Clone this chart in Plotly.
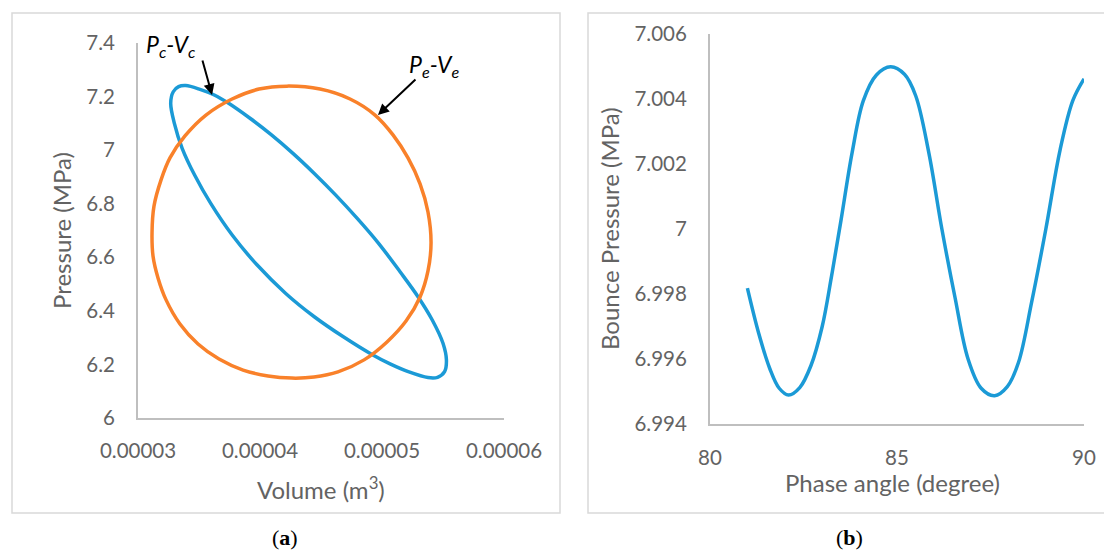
import plotly.graph_objects as go

# ---------------- data ----------------
# (a) Pe-Ve loop (volume in m^3, pressure in MPa)
pe_volume = [4.221e-5, 4.492e-5, 4.738e-5, 4.943e-5, 5.090e-5, 5.213e-5, 5.312e-5, 5.377e-5,
             5.402e-5, 5.377e-5, 5.312e-5, 5.197e-5, 5.041e-5, 4.853e-5, 4.639e-5, 4.443e-5,
             4.262e-5, 4.066e-5, 3.861e-5, 3.664e-5, 3.492e-5, 3.344e-5, 3.230e-5, 3.164e-5,
             3.123e-5, 3.115e-5, 3.131e-5, 3.189e-5, 3.262e-5, 3.385e-5, 3.557e-5, 3.771e-5,
             3.992e-5, 4.221e-5]
pe_pressure = [7.239, 7.228, 7.191, 7.131, 7.057, 6.971, 6.874, 6.769,
               6.653, 6.549, 6.452, 6.362, 6.284, 6.217, 6.172, 6.153,
               6.149, 6.157, 6.179, 6.220, 6.276, 6.351, 6.441, 6.523,
               6.605, 6.691, 6.791, 6.889, 6.971, 7.053, 7.131, 7.191,
               7.228, 7.239]

# (a) Pc-Vc loop
pc_volume = [3.391e-5, 3.508e-5, 3.625e-5, 3.743e-5, 3.918e-5, 4.094e-5, 4.270e-5, 4.445e-5,
             4.621e-5, 4.797e-5, 4.972e-5, 5.148e-5, 5.295e-5, 5.412e-5, 5.500e-5, 5.528e-5,
             5.513e-5, 5.455e-5, 5.377e-5, 5.221e-5, 5.066e-5, 4.914e-5, 4.680e-5, 4.445e-5,
             4.211e-5, 3.977e-5, 3.772e-5, 3.596e-5, 3.464e-5, 3.362e-5, 3.298e-5, 3.268e-5,
             3.289e-5, 3.333e-5, 3.391e-5]
pc_pressure = [7.241, 7.227, 7.206, 7.175, 7.119, 7.057, 6.988, 6.913,
               6.832, 6.745, 6.652, 6.546, 6.453, 6.366, 6.279, 6.217,
               6.173, 6.152, 6.151, 6.172, 6.202, 6.238, 6.304, 6.378,
               6.465, 6.571, 6.683, 6.801, 6.907, 7.007, 7.100, 7.175,
               7.218, 7.237, 7.241]

# (b) bounce pressure vs phase angle
phase_angle = [81.00, 81.30, 81.60, 81.85, 82.10, 82.40, 82.70, 83.00, 83.25, 83.50,
               83.80, 84.10, 84.45, 84.83, 85.20, 85.50, 85.85, 86.20, 86.55, 86.90,
               87.25, 87.61, 87.95, 88.25, 88.60, 88.98, 89.36, 89.70, 90.00]
bounce_pressure = [6.99818, 6.99680, 6.99570, 6.99510, 6.99489, 6.99512, 6.99580, 6.99700,
                   6.99855, 7.00025, 7.00235, 7.00395, 7.00474, 7.00499, 7.00476, 7.00410,
                   7.00235, 7.00000, 6.99790, 6.99600, 6.99510, 6.99487, 6.99515, 6.99590,
                   6.99775, 7.00000, 7.00243, 7.00395, 7.00462]

# tick labels
a_xticks = [3e-5, 4e-5, 5e-5, 6e-5]
a_xticktext = ["0.00003", "0.00004", "0.00005", "0.00006"]
a_yticks = [6.0, 6.2, 6.4, 6.6, 6.8, 7.0, 7.2, 7.4]
a_yticktext = ["6", "6.2", "6.4", "6.6", "6.8", "7", "7.2", "7.4"]
b_xticks = [80, 85, 90]
b_xticktext = ["80", "85", "90"]
b_yticks = [6.994, 6.996, 6.998, 7.000, 7.002, 7.004, 7.006]
b_yticktext = ["6.994", "6.996", "6.998", "7", "7.002", "7.004", "7.006"]

# ---------------- figure ----------------
W, H = 1104, 552
BLUE = "#1b9ad6"
ORANGE = "#f9812a"
GREY_TXT = "#636363"
AXIS_LINE = "#bfbfbf"
FONT = "Lato"

def px(x):
    return x / W

def py(y):
    return 1 - y / H

fig = go.Figure()
fig.add_trace(go.Scatter(x=pc_volume, y=pc_pressure, mode="lines",
                         line=dict(color=BLUE, width=3.5, shape="spline", smoothing=1.0),
                         xaxis="x", yaxis="y", showlegend=False, hoverinfo="skip"))
fig.add_trace(go.Scatter(x=pe_volume, y=pe_pressure, mode="lines",
                         line=dict(color=ORANGE, width=3.5, shape="spline", smoothing=1.0),
                         xaxis="x", yaxis="y", showlegend=False, hoverinfo="skip"))
fig.add_trace(go.Scatter(x=phase_angle, y=bounce_pressure, mode="lines",
                         line=dict(color=BLUE, width=3.5, shape="spline", smoothing=1.0),
                         xaxis="x2", yaxis="y2", showlegend=False, hoverinfo="skip"))

axis_common = dict(showgrid=False, zeroline=False, showline=True, linecolor=AXIS_LINE,
                   linewidth=2, ticks="", tickmode="array", automargin=False,
                   tickfont=dict(family=FONT, size=20.5, color=GREY_TXT))

fig.update_layout(
    width=W, height=H, margin=dict(l=0, r=0, t=0, b=0, autoexpand=False),
    paper_bgcolor="white", plot_bgcolor="white",
    xaxis=dict(domain=[px(138), px(504)], range=[3e-5, 6e-5], anchor="y",
               tickvals=a_xticks, ticktext=a_xticktext, ticklabelstandoff=13, **axis_common),
    yaxis=dict(domain=[py(418), py(43)], range=[6, 7.4], anchor="x",
               tickvals=a_yticks, ticktext=a_yticktext, ticklabelstandoff=17, **axis_common),
    xaxis2=dict(domain=[px(710), px(1084)], range=[80, 90], anchor="y2",
                tickvals=b_xticks, ticktext=b_xticktext, ticklabelstandoff=14, **axis_common),
    yaxis2=dict(domain=[py(424), py(34)], range=[6.994, 7.006], anchor="x2",
                tickvals=b_yticks, ticktext=b_yticktext, ticklabelstandoff=17, **axis_common),
)

# panel borders
border = dict(type="rect", xref="paper", yref="paper",
              line=dict(color="#d9d9d9", width=1.5), fillcolor="rgba(0,0,0,0)", layer="below")
fig.add_shape(x0=px(12), x1=px(560), y0=py(513), y1=py(13), **border)
fig.add_shape(x0=px(588), x1=px(1110), y0=py(513), y1=py(13), **border)

title_font = dict(family=FONT, size=24, color=GREY_TXT)
ann = []
ann.append(dict(text="Volume (m<sup>3</sup>)", x=px(321), y=py(488), xref="paper", yref="paper",
                showarrow=False, font=title_font, xanchor="center", yanchor="middle"))
ann.append(dict(text="Pressure (MPa)", x=px(62), y=py(231), xref="paper", yref="paper",
                showarrow=False, font=title_font, textangle=-90, xanchor="center", yanchor="middle"))
ann.append(dict(text="Phase angle (degree)", x=px(892), y=py(482), xref="paper", yref="paper",
                showarrow=False, font=title_font, xanchor="center", yanchor="middle"))
ann.append(dict(text="Bounce Pressure (MPa)", x=px(610), y=py(229), xref="paper", yref="paper",
                showarrow=False, font=title_font, textangle=-90, xanchor="center", yanchor="middle"))

# curve labels with arrows
lab_font = dict(family=FONT, size=23, color="black")
ann.append(dict(text="<i>P<sub>c</sub>-V<sub>c</sub></i>", x=px(170), y=py(45), xref="paper", yref="paper",
                showarrow=False, font=lab_font, xanchor="center", yanchor="middle"))
ann.append(dict(text="<i>P<sub>e</sub>-V<sub>e</sub></i>", x=px(434), y=py(66), xref="paper", yref="paper",
                showarrow=False, font=lab_font, xanchor="center", yanchor="middle"))
ann.append(dict(text="", x=3.607e-5, y=7.206, xref="x", yref="y", ax=-10, ay=-36,
                showarrow=True, arrowhead=2, arrowsize=1.1, arrowwidth=2, arrowcolor="black"))
ann.append(dict(text="", x=4.967e-5, y=7.131, xref="x", yref="y", ax=39, ay=-37,
                showarrow=True, arrowhead=2, arrowsize=1.1, arrowwidth=2, arrowcolor="black"))

# panel captions
cap_font = dict(family="Liberation Serif", size=22, color="black")
ann.append(dict(text="(<b>a</b>)", x=px(285), y=py(537), xref="paper", yref="paper",
                showarrow=False, font=cap_font, xanchor="center", yanchor="middle"))
ann.append(dict(text="(<b>b</b>)", x=px(849), y=py(537), xref="paper", yref="paper",
                showarrow=False, font=cap_font, xanchor="center", yanchor="middle"))

fig.update_layout(annotations=ann)
fig.write_html("out.html")
